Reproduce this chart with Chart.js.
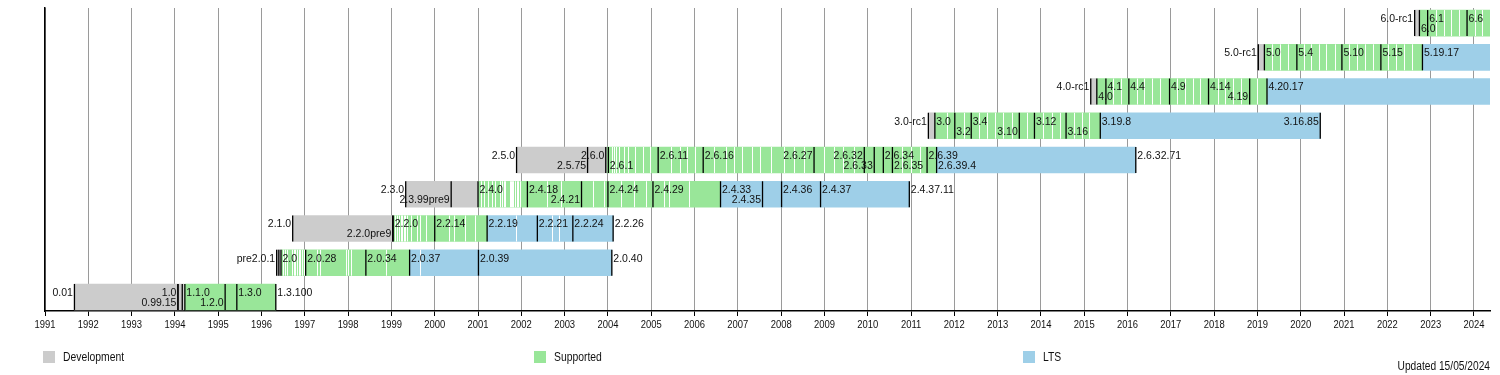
<!DOCTYPE html>
<html>
<head>
<meta charset="utf-8">
<script src="https://cdn.jsdelivr.net/npm/chart.js@4.4.1/dist/chart.umd.min.js"></script>
<style>
  html, body { margin: 0; padding: 0; background: #fff; }
  #wrap { width: 1500px; height: 375px; position: relative; }
</style>
</head>
<body>
<div id="wrap"><canvas id="timeline"></canvas></div>
<script>
// one row per kernel branch, bottom to top
const branches = ['1.x', '2.0', '2.2', '2.4', '2.6', '3.x', '4.x', '5.x', '6.x'];
const years = [1991, 1992, 1993, 1994, 1995, 1996, 1997, 1998, 1999, 2000, 2001, 2002,
  2003, 2004, 2005, 2006, 2007, 2008, 2009, 2010, 2011, 2012, 2013, 2014, 2015, 2016,
  2017, 2018, 2019, 2020, 2021, 2022, 2023, 2024];

// spans as decimal years
const development = [[1991.68, 1994.20], [1996.35, 1996.45], [1996.72, 1999.04], [1999.33, 2001.00],
  [2001.89, 2003.97], [2011.40, 2011.55], [2015.15, 2015.29], [2019.02, 2019.16], [2022.63, 2022.74]];
const supported = [[1994.23, 1996.33], [1996.45, 1999.42], [1999.04, 2001.21], [2001.00, 2006.60],
  [2003.97, 2011.59], [2011.55, 2015.37], [2015.29, 2019.22], [2019.16, 2022.81], [2022.74, 2024.37]];
const lts = [null, [1999.42, 2004.09], [2001.21, 2004.12], [2006.60, 2010.96], [2011.59, 2016.19],
  [2015.37, 2020.45], [2019.22, 2024.37], [2022.81, 2024.37], null];

// minor releases (thin white separators)
const minorReleases = [
  [],
  [1996.50, 1996.55, 1996.60, 1996.70, 1996.74, 1996.78, 1996.82, 1996.86, 1996.90, 1996.94, 1996.98,
   1997.28, 1997.34, 1997.96, 1998.00, 1998.06, 1998.88, 1999.65],
  [1999.08, 1999.14, 1999.18, 1999.22, 1999.25, 1999.29, 1999.32, 1999.36, 1999.45, 1999.60, 1999.65,
   1999.80, 2000.34, 2000.44, 2000.69, 2000.94, 2001.87, 2002.70, 2002.88],
  [2001.08, 2001.14, 2001.24, 2001.32, 2001.40, 2001.51, 2001.55, 2001.61, 2001.63, 2001.73, 2001.77,
   2001.79, 2001.81, 2001.85, 2001.89, 2001.92, 2001.97, 2002.59, 2002.91, 2003.65, 2003.91, 2004.30,
   2004.60, 2004.88, 2005.30, 2005.42, 2005.88],
  [2004.09, 2004.13, 2004.19, 2004.26, 2004.36, 2004.46, 2004.62, 2004.80, 2004.98, 2005.46, 2005.66,
   2005.82, 2006.01, 2006.46, 2006.72, 2006.91, 2007.10, 2007.32, 2007.52, 2007.77, 2008.07, 2008.29,
   2008.53, 2008.98, 2009.22, 2009.44, 2009.69, 2010.80, 2011.01, 2011.20],
  [2011.82, 2012.22, 2012.56, 2012.75, 2012.95, 2013.13, 2013.32, 2013.67, 2014.05, 2014.25, 2014.44,
   2014.76, 2014.94, 2015.11],
  [2015.66, 2015.84, 2016.21, 2016.37, 2016.57, 2016.74, 2017.14, 2017.33, 2017.51, 2017.68, 2018.08,
   2018.25, 2018.43, 2018.61, 2019.00],
  [2019.34, 2019.51, 2019.71, 2020.07, 2020.24, 2020.41, 2020.59, 2020.78, 2021.12, 2021.31, 2021.49,
   2021.66, 2022.02, 2022.21, 2022.39, 2022.58],
  [2023.13, 2023.31, 2023.48, 2023.65, 2024.02, 2024.19]
];

// labelled releases: [version, date, side of the mark, upper/lower line]
const releases = [
  [['0.01', 1991.68, 'R', 'hi'], ['1.0', 1994.07, 'R', 'hi'], ['0.99.15', 1994.07, 'R', 'lo'],
   ['', 1994.17], ['1.1.0', 1994.23, 'L', 'hi'], ['1.2.0', 1995.16, 'R', 'lo'], ['1.3.0', 1995.43, 'L', 'hi'],
   ['1.3.100', 1996.33, 'L', 'hi']],
  [['pre2.0.1', 1996.35, 'R', 'hi'], ['', 1996.40], ['2.0', 1996.45, 'L', 'hi'], ['2.0.28', 1997.02, 'L', 'hi'],
   ['2.0.34', 1998.41, 'L', 'hi'], ['2.0.37', 1999.42, 'L', 'hi'], ['2.0.39', 2001.01, 'L', 'hi'],
   ['2.0.40', 2004.09, 'L', 'hi']],
  [['2.1.0', 1996.72, 'R', 'hi'], ['2.2.0pre9', 1999.03, 'R', 'lo'], ['2.2.0', 1999.04, 'L', 'hi'],
   ['2.2.14', 2000.00, 'L', 'hi'], ['2.2.19', 2001.21, 'L', 'hi'], ['2.2.21', 2002.37, 'L', 'hi'],
   ['2.2.24', 2003.19, 'L', 'hi'], ['2.2.26', 2004.12, 'L', 'hi']],
  [['2.3.0', 1999.33, 'R', 'hi'], ['2.3.99pre9', 2000.38, 'R', 'lo'], ['2.4.0', 2001.00, 'L', 'hi'],
   ['2.4.18', 2002.14, 'L', 'hi'], ['2.4.21', 2003.39, 'R', 'lo'], ['2.4.24', 2004.00, 'L', 'hi'],
   ['2.4.29', 2005.04, 'L', 'hi'], ['2.4.33', 2006.60, 'L', 'hi'], ['2.4.35', 2007.57, 'R', 'lo'],
   ['2.4.36', 2008.01, 'L', 'hi'], ['2.4.37', 2008.91, 'L', 'hi'], ['2.4.37.11', 2010.96, 'L', 'hi']],
  [['2.5.0', 2001.89, 'R', 'hi'], ['2.5.75', 2003.53, 'R', 'lo'], ['2.6.0', 2003.95, 'R', 'hi'],
   ['2.6.1', 2004.01, 'L', 'lo'], ['2.6.11', 2005.16, 'L', 'hi'], ['2.6.16', 2006.20, 'L', 'hi'],
   ['2.6.27', 2008.76, 'R', 'hi'], ['2.6.32', 2009.92, 'R', 'hi'], ['2.6.33', 2010.15, 'R', 'lo'],
   ['2.6.34', 2010.36, 'L', 'hi'], ['2.6.35', 2010.57, 'L', 'lo'], ['2.6.39', 2011.37, 'L', 'hi'],
   ['2.6.39.4', 2011.59, 'L', 'lo'], ['2.6.32.71', 2016.19, 'L', 'hi']],
  [['3.0-rc1', 2011.40, 'R', 'hi'], ['3.0', 2011.55, 'L', 'hi'], ['3.2', 2012.01, 'L', 'lo'],
   ['3.4', 2012.39, 'L', 'hi'], ['3.10', 2013.50, 'R', 'lo'], ['3.12', 2013.85, 'L', 'hi'],
   ['3.16', 2014.58, 'L', 'lo'], ['3.19.8', 2015.37, 'L', 'hi'], ['3.16.85', 2020.45, 'R', 'hi']],
  [['4.0-rc1', 2015.15, 'R', 'hi'], ['4.0', 2015.29, 'L', 'lo'], ['4.1', 2015.50, 'L', 'hi'],
   ['4.4', 2016.03, 'L', 'hi'], ['4.9', 2016.97, 'L', 'hi'], ['4.14', 2017.87, 'L', 'hi'],
   ['4.19', 2018.82, 'R', 'lo'], ['4.20.17', 2019.22, 'L', 'hi']],
  [['5.0-rc1', 2019.02, 'R', 'hi'], ['5.0', 2019.16, 'L', 'hi'], ['5.4', 2019.91, 'L', 'hi'],
   ['5.10', 2020.95, 'L', 'hi'], ['5.15', 2021.85, 'L', 'hi'], ['5.19.17', 2022.81, 'L', 'hi']],
  [['6.0-rc1', 2022.63, 'R', 'hi'], ['6.0', 2022.74, 'L', 'lo'], ['6.1', 2022.93, 'L', 'hi'],
   ['6.6', 2023.84, 'L', 'hi']]
];

const legendLabels = ['Development', 'Supported', 'LTS'];
const updatedNote = 'Updated 15/05/2024';

const colors = { dev: '#cccccc', sup: '#99e699', lts: '#9ecfe8' };
const labelFont = '10.5px "Liberation Sans", Arial, sans-serif';
const BAR = 26;

function spans(list) {
    return list.map((s, i) => s ? { x: s, y: i } : null).filter(Boolean);
}

// no narrow face installed, so squeeze the regular one
function narrowText(ctx, text, x, y, size, squeeze, align) {
    ctx.save();
    ctx.font = size + 'px "Liberation Sans", Arial, sans-serif';
    ctx.textAlign = align;
    ctx.textBaseline = 'middle';
    ctx.translate(x, y);
    ctx.scale(squeeze, 1);
    ctx.fillText(text, 0, 0);
    ctx.restore();
}

// white separators, black marks and version labels on top of the bars
const releaseMarks = {
    id: 'releaseMarks',
    afterDatasetsDraw(chart) {
        const { ctx, scales: { x, y } } = chart;
        const half = BAR / 2;
        ctx.save();

        ctx.strokeStyle = '#fff';
        ctx.lineWidth = 1;
        minorReleases.forEach((list, row) => {
            const cy = y.getPixelForValue(row);
            list.forEach(d => {
                const px = Math.round(x.getPixelForValue(d)) + 0.5;
                ctx.beginPath();
                ctx.moveTo(px, cy - half);
                ctx.lineTo(px, cy + half);
                ctx.stroke();
            });
        });

        ctx.strokeStyle = '#000';
        ctx.lineWidth = 1.3;
        releases.forEach((list, row) => {
            const cy = y.getPixelForValue(row);
            list.forEach(r => {
                const px = x.getPixelForValue(r[1]);
                ctx.beginPath();
                ctx.moveTo(px, cy - half);
                ctx.lineTo(px, cy + half);
                ctx.stroke();
            });
        });

        ctx.font = labelFont;
        ctx.fillStyle = '#111';
        ctx.textBaseline = 'middle';
        releases.forEach((list, row) => {
            const cy = y.getPixelForValue(row);
            list.forEach(r => {
                if (!r[0]) return;
                const px = x.getPixelForValue(r[1]);
                const ty = r[3] === 'lo' ? cy + 6 : cy - 4;
                if (r[2] === 'R') {
                    ctx.textAlign = 'right';
                    ctx.fillText(r[0], px - 1.5, ty);
                } else {
                    ctx.textAlign = 'left';
                    ctx.fillText(r[0], px + 1.5, ty);
                }
            });
        });
        ctx.restore();
    }
};

// year labels, legend row and update note under the axis
const bottomLegend = {
    id: 'bottomLegend',
    afterDraw(chart) {
        const { ctx, chartArea, scales: { x } } = chart;
        ctx.save();
        ctx.fillStyle = '#111';
        years.forEach(v => {
            narrowText(ctx, String(v), x.getPixelForValue(v), chartArea.bottom + 14, 11.5, 0.82, 'center');
        });

        const swatches = [colors.dev, colors.sup, colors.lts];
        const xs = [43, 534, 1023];
        legendLabels.forEach((t, i) => {
            ctx.fillStyle = swatches[i];
            ctx.fillRect(xs[i], 351, 12, 12);
            ctx.fillStyle = '#111';
            narrowText(ctx, t, xs[i] + 20, 358, 12.5, 0.83, 'left');
        });
        narrowText(ctx, updatedNote, 1490, 367, 12, 0.85, 'right');
        ctx.restore();
    }
};

new Chart(document.getElementById('timeline'), {
    type: 'bar',
    data: {
        datasets: [
            { label: legendLabels[0], data: spans(development), backgroundColor: colors.dev },
            { label: legendLabels[1], data: spans(supported), backgroundColor: colors.sup },
            { label: legendLabels[2], data: spans(lts), backgroundColor: colors.lts }
        ]
    },
    options: {
        indexAxis: 'y',
        responsive: true,
        maintainAspectRatio: false,
        animation: false,
        layout: { padding: { left: 45, right: 10, top: 8, bottom: 0 } },
        datasets: { bar: { grouped: false, barThickness: BAR, borderWidth: 0 } },
        plugins: { legend: { display: false }, tooltip: { enabled: false } },
        scales: {
            x: {
                type: 'linear',
                min: 1991,
                max: 2024.37,
                afterBuildTicks: s => { s.ticks = years.map(v => ({ value: v })); },
                afterFit: s => { s.height = 64; },
                ticks: { display: false },
                grid: { color: '#9a9a9a', tickColor: '#000', tickLength: 5, lineWidth: 1 },
                border: { color: '#000', width: 1.5 }
            },
            y: {
                type: 'linear',
                offset: false,
                min: -0.41,
                max: 8.44,
                afterFit: s => { s.width = 0; },
                ticks: { display: false },
                grid: { display: false, offset: false },
                border: { color: '#000', width: 1.5 }
            }
        }
    },
    plugins: [releaseMarks, bottomLegend]
});
</script>
</body>
</html>
